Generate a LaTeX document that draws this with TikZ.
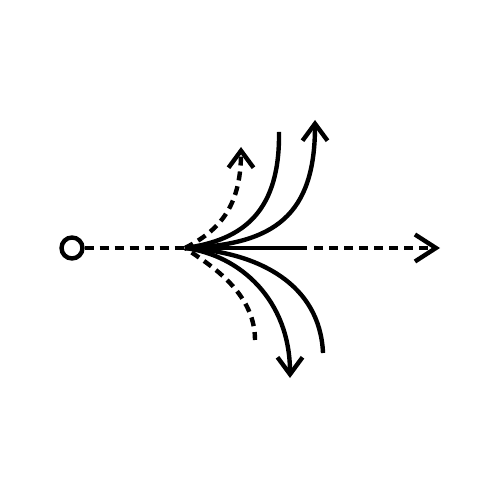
\documentclass[tikz,border=0pt]{standalone}
\usetikzlibrary{arrows.meta}
\begin{document}
\begin{tikzpicture}[x=0.1mm, y=-0.1mm,
        stroke/.style={line width=0.44mm},
        dashline/.style={stroke, dash pattern=on 0.9mm off 0.6mm},
        barb/.style={-{Straight Barb[length=1.7mm, width=2.5mm]}},
        bigbarb/.style={-{Straight Barb[length=2.1mm, width=2.7mm]}}]
    \useasboundingbox (0,0) rectangle (500,500);
    \node[stroke, draw, circle, minimum size=2.1mm, inner sep=0pt] (start) at (72,248) {};
    \coordinate (hub) at (185,248);
    \coordinate (mid) at (307,248);
    \coordinate (gap) at (314,248);
    \coordinate (goal) at (440,248);
    \coordinate (upshort) at (241,147);
    \coordinate (upmid) at (279,132);
    \coordinate (uplong) at (315,120);
    \coordinate (downshort) at (255,340);
    \coordinate (downmid) at (290,378);
    \coordinate (downlong) at (323,353);
    % straight path
    \draw[dashline] (start) -- (hub);
    \draw[stroke] (hub) -- (mid);
    \draw[dashline, bigbarb] (gap) -- (goal);
    % branches going up
    \draw[dashline, barb] (hub) .. controls (216,232) and (241,210) .. (upshort);
    \draw[stroke] (hub) .. controls (245,240) and (280,210) .. (upmid);
    \draw[stroke, barb] (hub) .. controls (275,245) and (315,215) .. (uplong);
    % branches going down
    \draw[dashline, dash phase=0.7mm] (hub) .. controls (205,262) and (255,290) .. (downshort);
    \draw[stroke, barb] (hub) .. controls (240,255) and (290,300) .. (downmid);
    \draw[stroke] (hub) .. controls (260,252) and (320,285) .. (downlong);
\end{tikzpicture}
\end{document}
